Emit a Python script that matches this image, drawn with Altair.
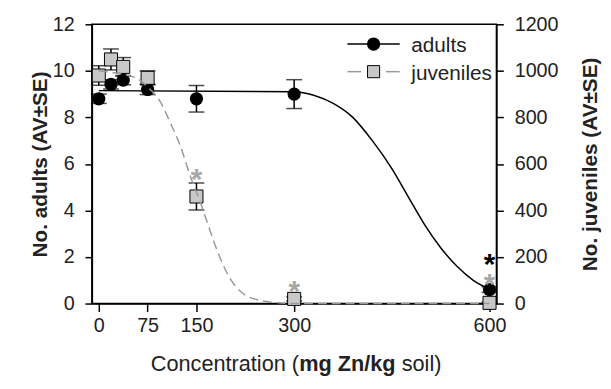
import altair as alt
import pandas as pd

# ---- data ----
conc = [0, 18.75, 37.5, 75, 150, 300, 600]
adults = [8.8, 9.42, 9.6, 9.2, 8.8, 9.0, 0.6]
adults_se = [0.2, 0.2, 0.2, 0.22, 0.57, 0.62, 0.12]
juveniles = [980, 1049, 1017, 970, 460, 20, 3]
juveniles_se = [42, 45, 40, 30, 58, 9, 3]

adult_fit_conc = [0, 300, 330, 360, 390, 420, 450, 475, 500, 525, 550, 575, 600]
adult_fit = [9.15, 9.1, 8.95, 8.6, 8.0, 7.0, 5.8, 4.6, 3.4, 2.4, 1.6, 1.0, 0.62]
juv_fit_conc = [0, 12, 42, 63, 75, 91, 111, 126, 141, 156.5, 172, 187, 202, 222, 247, 273, 300, 600]
juv_fit = [1000, 996, 982, 960, 930, 883, 770, 671, 544, 431, 304, 191, 106, 42, 14, 4, 0, 0]

adult_star_conc = [600]
adult_star = [1.98]
juv_star_conc = [150, 300, 600]
juv_star = [565, 85, 113]

x_ticks = [0, 75, 150, 300, 600]
left_ticks = [0, 2, 4, 6, 8, 10, 12]
right_ticks = [0, 200, 400, 600, 800, 1000, 1200]

FONT = "Liberation Sans"
GREY_LINE = "#9a9a9a"
GREY_STAR = "#a6a6a6"
SQ_FILL = "#c8c8c8"

df_a = pd.DataFrame({"conc": conc, "val": adults,
                     "lo": [v - s for v, s in zip(adults, adults_se)],
                     "hi": [v + s for v, s in zip(adults, adults_se)]})
df_j = pd.DataFrame({"conc": conc, "val": juveniles,
                     "lo": [v - s for v, s in zip(juveniles, juveniles_se)],
                     "hi": [v + s for v, s in zip(juveniles, juveniles_se)]})
df_af = pd.DataFrame({"conc": adult_fit_conc, "val": adult_fit})
df_jf = pd.DataFrame({"conc": juv_fit_conc, "val": juv_fit})
df_as = pd.DataFrame({"conc": adult_star_conc, "val": adult_star})
df_js = pd.DataFrame({"conc": juv_star_conc, "val": juv_star})
one = pd.DataFrame({"k": [0]})

x_axis = alt.Axis(values=x_ticks, title=None, labelFontSize=20, labelFont=FONT,
                  tickSize=8, labelPadding=4, grid=False, labelColor="#222", format="d")
X = lambda: alt.X("conc:Q", scale=alt.Scale(domain=[-10.6, 610.6], nice=False, zero=False), axis=x_axis)

axis_a = alt.Axis(values=left_ticks, title="No. adults (AV±SE)", orient="left", format="d",
                  titleFont=FONT, titleFontSize=21, titleFontWeight="bold", titleColor="#222",
                  titlePadding=2, labelFontSize=20, labelFont=FONT, labelColor="#222",
                  tickSize=7, labelPadding=11, grid=False)
axis_j = alt.Axis(values=right_ticks, title="No. juveniles (AV±SE)", orient="right", format="d",
                  titleFont=FONT, titleFontSize=21, titleFontWeight="bold", titleColor="#222",
                  titleAngle=-90, titleBaseline="top",
                  titlePadding=22, labelFontSize=20, labelFont=FONT, labelColor="#222",
                  tickSize=7, labelPadding=11, grid=False)
sc_a = alt.Scale(domain=[0, 12], nice=False)
sc_j = alt.Scale(domain=[0, 1200], nice=False)

def YA(f):
    return alt.Y(f + ":Q", scale=sc_a, axis=axis_a)

def YJ(f):
    return alt.Y(f + ":Q", scale=sc_j, axis=axis_j)

# ---- adults (left axis) ----
a_line = alt.Chart(df_af).mark_line(color="black", strokeWidth=1.5, interpolate="monotone").encode(x=X(), y=YA("val"))
a_err = alt.Chart(df_a).mark_rule(color="black", strokeWidth=1.5).encode(x=X(), y=YA("lo"), y2="hi")
a_cap_lo = alt.Chart(df_a).mark_tick(color="black", thickness=1.5, size=16, orient="horizontal").encode(x=X(), y=YA("lo"))
a_cap_hi = alt.Chart(df_a).mark_tick(color="black", thickness=1.5, size=16, orient="horizontal").encode(x=X(), y=YA("hi"))
a_pts = alt.Chart(df_a).mark_point(shape="circle", filled=True, color="black", size=180, opacity=1).encode(x=X(), y=YA("val"))
a_star = alt.Chart(df_as).mark_text(text="*", font=FONT, fontSize=30, fontWeight="bold", color="black",
                                    baseline="alphabetic", dy=17).encode(x=X(), y=YA("val"))
adult_layer = alt.layer(a_err, a_cap_lo, a_cap_hi, a_line, a_pts, a_star)

# ---- juveniles (right axis) ----
j_line = alt.Chart(df_jf).mark_line(color=GREY_LINE, strokeWidth=1.5, strokeDash=[9, 5], interpolate="monotone").encode(x=X(), y=YJ("val"))
j_err = alt.Chart(df_j).mark_rule(color="black", strokeWidth=1.5).encode(x=X(), y=YJ("lo"), y2="hi")
j_cap_lo = alt.Chart(df_j).mark_tick(color="black", thickness=1.5, size=16, orient="horizontal").encode(x=X(), y=YJ("lo"))
j_cap_hi = alt.Chart(df_j).mark_tick(color="black", thickness=1.5, size=16, orient="horizontal").encode(x=X(), y=YJ("hi"))
j_pts = alt.Chart(df_j).mark_point(shape="square", filled=True, fill=SQ_FILL, stroke="black", strokeWidth=1,
                                   size=175, opacity=1).encode(x=X(), y=YJ("val"))
j_star = alt.Chart(df_js).mark_text(text="*", font=FONT, fontSize=30, fontWeight="bold", color=GREY_STAR,
                                    baseline="alphabetic", dy=17).encode(x=X(), y=YJ("val"))
juv_layer = alt.layer(j_err, j_cap_lo, j_cap_hi, j_pts, j_star, j_line)

# ---- legend (decoration) ----
leg = [
    alt.Chart(one).mark_rule(color="black", strokeWidth=1.5).encode(x=alt.value(259), x2=alt.value(312), y=alt.value(20)),
    alt.Chart(one).mark_point(shape="circle", filled=True, color="black", size=180, opacity=1).encode(x=alt.value(285.5), y=alt.value(20)),
    alt.Chart(one).mark_text(text="adults", font=FONT, fontSize=21, align="left", baseline="alphabetic", color="#222").encode(x=alt.value(323.7), y=alt.value(28)),
    alt.Chart(one).mark_rule(color=GREY_LINE, strokeWidth=1.5).encode(x=alt.value(259), x2=alt.value(273), y=alt.value(48)),
    alt.Chart(one).mark_rule(color=GREY_LINE, strokeWidth=1.5).encode(x=alt.value(298), x2=alt.value(312), y=alt.value(48)),
    alt.Chart(one).mark_point(shape="square", filled=True, fill=SQ_FILL, stroke="black", strokeWidth=1, size=150, opacity=1).encode(x=alt.value(285.5), y=alt.value(48)),
    alt.Chart(one).mark_text(text="juveniles", font=FONT, fontSize=21, align="left", baseline="alphabetic", color="#222").encode(x=alt.value(323.7), y=alt.value(56)),
]

# ---- x title with bold part ----
F = 22
start = 207 - 13.392 * F / 2
xt = [
    alt.Chart(one).mark_text(text="Concentration (", font=FONT, fontSize=F, align="left", baseline="alphabetic", color="#222").encode(x=alt.value(start), y=alt.value(351)),
    alt.Chart(one).mark_text(text="mg Zn/kg", font=FONT, fontSize=F, fontWeight="bold", align="left", baseline="alphabetic", color="#222").encode(x=alt.value(start + 6.836 * F), y=alt.value(351)),
    alt.Chart(one).mark_text(text="soil)", font=FONT, fontSize=F, align="left", baseline="alphabetic", color="#222").encode(x=alt.value(start + 11.559 * F), y=alt.value(351)),
]

chart = alt.layer(adult_layer, juv_layer, *leg, *xt).resolve_scale(y="independent").properties(
    width=410, height=283,
    autosize=alt.AutoSizeParams(type="none"),
    padding={"left": 85, "top": 14, "right": 108, "bottom": 78},
).configure_view(stroke="black", strokeWidth=1.5).configure_axis(
    domainColor="black", domainWidth=1.5, tickColor="black", tickWidth=1.5
)

chart.save("out.html", embed_options={"renderer": "svg", "actions": False})
